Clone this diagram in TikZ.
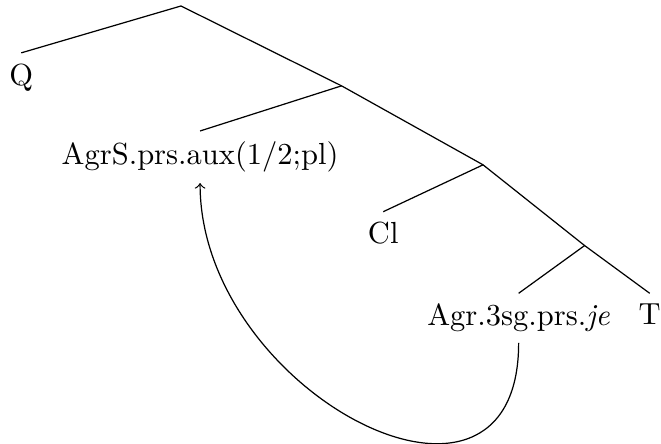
\documentclass[tikz,border=0pt]{standalone}
\begin{document}
\begin{tikzpicture}[
  leaf/.style={anchor=north},
  branch/.style={-},
  move/.style={->}
]
\useasboundingbox (-2.085,0.069) rectangle (5.53,-5.046);
\coordinate (root) at (0,0);
\coordinate (n2) at (1.85,-0.92);
\coordinate (n3) at (3.48,-1.83);
\coordinate (n4) at (4.65,-2.76);
\node[leaf] (q) at (-1.84,-0.54) {Q};
\node[leaf] (agrs) at (0.22,-1.44) {AgrS.prs.aux(1/2;pl)};
\node[leaf] (cl) at (2.33,-2.37) {Cl};
\node[leaf] (agr) at (3.89,-3.31) {Agr.3sg.prs.\textit{je}};
\node[leaf] (t) at (5.40,-3.31) {T};
\draw[branch] (q.north) -- (root) -- (n2) -- (n3) -- (n4) -- (t.north);
\draw[branch] (n2) -- (agrs.north);
\draw[branch] (n3) -- (cl.north);
\draw[branch] (n4) -- (agr.north);
\draw[move] (agr.south) .. controls +(0,-2.48) and +(0,-2.41) .. (agrs.south);
\end{tikzpicture}
\end{document}
